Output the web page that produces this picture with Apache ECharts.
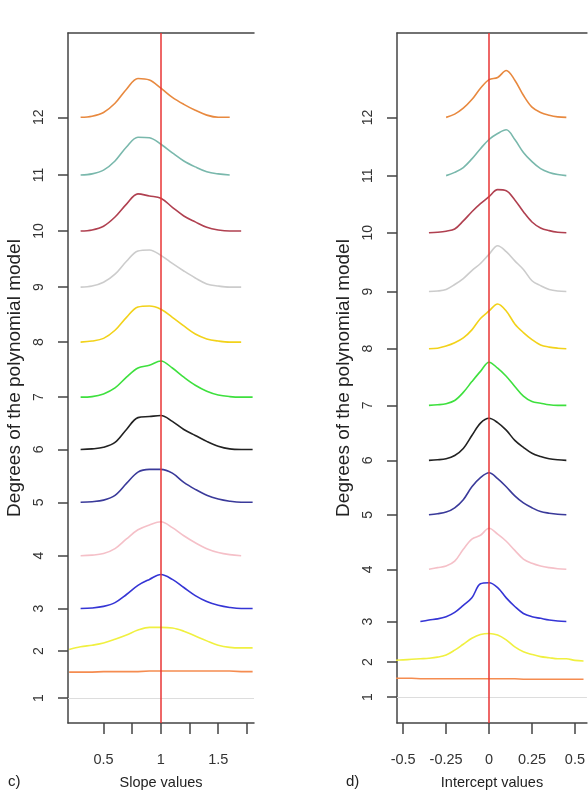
<!DOCTYPE html>
<html>
<head>
<meta charset="utf-8">
<script src="https://cdn.jsdelivr.net/npm/echarts@6/dist/echarts.min.js"></script>
<style>
  html, body { margin: 0; padding: 0; background: #fff; }
  #chart { width: 588px; height: 795px; }
</style>
</head>
<body>
<div id="chart"></div>
<script>
// ---- data ----
const degreeLabels = ['1', '2', '3', '4', '5', '6', '7', '8', '9', '10', '11', '12']
const lineColors = ['#F58C50', '#F0F040', '#3535D5', '#F5C0C8', '#3A3A9A', '#222222',
  '#3EE03E', '#F2D21A', '#CCCCCC', '#B04050', '#79B8AC', '#E8893F']

// where each degree sits on the y axis (panel c and panel d are spaced differently)
const slopeLevels = [1, 1.87, 2.66, 3.64, 4.63, 5.61, 6.58, 7.6, 8.62, 9.66, 10.7, 11.77]
const interceptLevels = [1, 1.65, 2.4, 3.37, 4.38, 5.39, 6.41, 7.46, 8.52, 9.61, 10.67, 11.75]

// x ticks
const slopeTicks = [0.5, 0.75, 1, 1.25, 1.5, 1.75]
const slopeTickLabels = [0.5, 1, 1.5]
const interceptTicks = [-0.5, -0.25, 0, 0.25, 0.5]

// panel c: density heights above each baseline, degree 1..12
const slopeX = [0.2, 0.3, 0.4, 0.5, 0.6, 0.7, 0.8, 0.9, 1.0, 1.1, 1.2, 1.3, 1.4, 1.5, 1.6, 1.7, 1.8]
const slopeDensity = [
  [0.48, 0.48, 0.48, 0.49, 0.49, 0.49, 0.49, 0.5, 0.5, 0.5, 0.5, 0.5, 0.5, 0.5, 0.5, 0.49, 0.49],
  [0.03, 0.08, 0.11, 0.15, 0.22, 0.3, 0.39, 0.44, 0.44, 0.43, 0.37, 0.28, 0.19, 0.11, 0.07, 0.06, 0.06],
  [null, 0, 0.01, 0.04, 0.11, 0.26, 0.43, 0.54, 0.63, 0.54, 0.39, 0.24, 0.13, 0.06, 0.02, 0, 0],
  [null, 0, 0.01, 0.04, 0.13, 0.31, 0.48, 0.57, 0.63, 0.52, 0.37, 0.24, 0.13, 0.06, 0.02, 0, null],
  [null, 0, 0.01, 0.04, 0.13, 0.35, 0.56, 0.61, 0.61, 0.54, 0.37, 0.24, 0.13, 0.06, 0.02, 0, 0],
  [null, 0, 0.01, 0.04, 0.13, 0.37, 0.59, 0.61, 0.63, 0.52, 0.37, 0.26, 0.15, 0.06, 0.01, 0, 0],
  [null, 0, 0.01, 0.06, 0.17, 0.37, 0.54, 0.59, 0.67, 0.54, 0.37, 0.22, 0.11, 0.04, 0.01, 0, 0],
  [null, 0, 0.02, 0.07, 0.22, 0.46, 0.65, 0.67, 0.61, 0.46, 0.3, 0.15, 0.06, 0.02, 0, 0, null],
  [null, 0, 0.02, 0.09, 0.24, 0.48, 0.67, 0.69, 0.59, 0.44, 0.3, 0.17, 0.06, 0.02, 0, 0, null],
  [null, 0, 0.02, 0.09, 0.26, 0.5, 0.69, 0.65, 0.61, 0.44, 0.28, 0.17, 0.07, 0.02, 0, 0, null],
  [null, 0, 0.02, 0.09, 0.26, 0.52, 0.7, 0.69, 0.57, 0.41, 0.26, 0.15, 0.06, 0.02, 0, null, null],
  [null, 0, 0.02, 0.09, 0.26, 0.52, 0.72, 0.69, 0.54, 0.37, 0.24, 0.13, 0.04, 0, 0, null, null]
]

// panel d
const interceptX = [-0.55, -0.5, -0.45, -0.4, -0.35, -0.3, -0.25, -0.2, -0.15, -0.1, -0.05, 0,
  0.05, 0.1, 0.15, 0.2, 0.25, 0.3, 0.35, 0.4, 0.45, 0.5, 0.55]
const interceptDensity = [
  [0.35, 0.35, 0.35, 0.34, 0.34, 0.34, 0.34, 0.34, 0.34, 0.34, 0.34, 0.34, 0.34, 0.34, 0.34, 0.33, 0.33, 0.33, 0.33, 0.33, 0.33, 0.33, 0.33],
  [0.03, 0.04, 0.05, 0.06, 0.07, 0.09, 0.13, 0.22, 0.33, 0.44, 0.51, 0.53, 0.5, 0.41, 0.28, 0.19, 0.14, 0.1, 0.08, 0.06, 0.06, 0.03, 0.02],
  [null, null, null, 0, 0.03, 0.05, 0.09, 0.17, 0.3, 0.44, 0.7, 0.72, 0.63, 0.44, 0.28, 0.15, 0.09, 0.06, 0.03, 0.01, 0, null, null],
  [null, null, null, null, 0, 0.03, 0.06, 0.15, 0.37, 0.56, 0.63, 0.76, 0.65, 0.52, 0.35, 0.19, 0.11, 0.06, 0.03, 0.01, 0, null, null],
  [null, null, null, null, 0, 0.02, 0.05, 0.13, 0.28, 0.52, 0.69, 0.78, 0.67, 0.52, 0.35, 0.22, 0.13, 0.06, 0.03, 0.01, 0, null, null],
  [null, null, null, null, 0, 0.01, 0.03, 0.09, 0.22, 0.46, 0.69, 0.78, 0.7, 0.56, 0.37, 0.24, 0.13, 0.07, 0.03, 0.01, 0, null, null],
  [null, null, null, null, 0, 0.01, 0.03, 0.09, 0.24, 0.44, 0.63, 0.8, 0.69, 0.54, 0.35, 0.17, 0.07, 0.04, 0.01, 0, 0, null, null],
  [null, null, null, null, 0, 0.01, 0.05, 0.11, 0.2, 0.35, 0.56, 0.7, 0.83, 0.7, 0.46, 0.3, 0.17, 0.07, 0.03, 0.01, 0, null, null],
  [null, null, null, null, 0, 0.01, 0.04, 0.13, 0.24, 0.39, 0.52, 0.69, 0.85, 0.74, 0.57, 0.41, 0.2, 0.11, 0.04, 0.01, 0, null, null],
  [null, null, null, null, 0, 0.01, 0.03, 0.07, 0.22, 0.39, 0.54, 0.67, 0.8, 0.78, 0.61, 0.39, 0.2, 0.09, 0.04, 0.01, 0, null, null],
  [null, null, null, null, null, null, 0, 0.06, 0.15, 0.31, 0.5, 0.67, 0.78, 0.85, 0.67, 0.43, 0.26, 0.13, 0.06, 0.02, 0, null, null],
  [null, null, null, null, null, null, 0, 0.06, 0.17, 0.33, 0.54, 0.7, 0.74, 0.87, 0.69, 0.41, 0.19, 0.09, 0.04, 0.01, 0, null, null]
]

// ---- chart ----
const FONT = 'Liberation Sans, Arial, sans-serif'
const AXIS_COLOR = '#444'

const chart = echarts.init(document.getElementById('chart'), null, { renderer: 'canvas' })

const buildSeries = (xs, levels, densities, idx, refX) => {
  const list = densities.map((h, d) => ({
    type: 'line',
    xAxisIndex: idx * 2,
    yAxisIndex: idx,
    showSymbol: false,
    smooth: d === 0 ? false : 0.35,
    silent: true,
    lineStyle: { color: lineColors[d], width: 1.6 },
    data: xs.map((x, i) => h[i] == null ? null : [x, levels[d] + h[i]]).filter(Boolean)
  }))
  // light baseline at degree 1 and the red reference line
  list[list.length - 1].markLine = {
    silent: true,
    symbol: 'none',
    label: { show: false },
    data: [
      { yAxis: levels[0], lineStyle: { color: '#DDDDDD', width: 1.2, type: 'solid' } },
      { xAxis: refX, lineStyle: { color: '#E83535', width: 1.5, type: 'solid' } }
    ]
  }
  return list
}

const yAxisFor = (idx, levels, min, max) => ({
  type: 'value',
  gridIndex: idx,
  position: 'left',
  min, max,
  name: 'Degrees of the polynomial model',
  nameLocation: 'middle',
  nameGap: 44,
  nameTextStyle: { fontFamily: FONT, fontSize: 19, color: '#222' },
  splitLine: { show: false },
  axisLine: { show: true, onZero: false, lineStyle: { color: AXIS_COLOR, width: 1.5 } },
  axisTick: { show: true, length: 10, customValues: levels, lineStyle: { color: AXIS_COLOR, width: 1.5 } },
  axisLabel: {
    customValues: levels,
    rotate: 90,
    margin: 22,
    fontFamily: FONT,
    fontSize: 14,
    color: '#333',
    formatter: val => {
      const i = levels.findIndex(l => Math.abs(l - val) < 1e-6)
      return i < 0 ? '' : degreeLabels[i]
    }
  }
})

const xAxesFor = (idx, min, max, ticks, labels, name) => [
  {
    type: 'value',
    gridIndex: idx,
    position: 'bottom',
    min, max,
    name,
    nameLocation: 'middle',
    nameGap: 52,
    nameTextStyle: { fontFamily: FONT, fontSize: 14.5, color: '#222' },
    splitLine: { show: false },
    axisLine: { show: true, onZero: false, lineStyle: { color: AXIS_COLOR, width: 1.5 } },
    axisTick: { show: true, length: 11, customValues: ticks, lineStyle: { color: AXIS_COLOR, width: 1.5 } },
    axisLabel: { customValues: labels, margin: 29, fontFamily: FONT, fontSize: 14.5, color: '#333' }
  },
  {
    type: 'value',
    gridIndex: idx,
    position: 'top',
    min, max,
    splitLine: { show: false },
    axisLine: { show: true, onZero: false, lineStyle: { color: AXIS_COLOR, width: 1.5 } },
    axisTick: { show: false },
    axisLabel: { show: false }
  }
]

chart.setOption({
  animation: false,
  backgroundColor: '#fff',
  grid: [
    { left: 68, top: 33, width: 186, height: 691 },
    { left: 397, top: 33, width: 191, height: 691 }
  ],
  xAxis: [
    ...xAxesFor(0, 0.19, 1.812, slopeTicks, slopeTickLabels, 'Slope values'),
    ...xAxesFor(1, -0.536, 0.57, interceptTicks, interceptTicks, 'Intercept values')
  ],
  yAxis: [
    yAxisFor(0, slopeLevels, 0.537, 13.333),
    yAxisFor(1, interceptLevels, 0.519, 13.315)
  ],
  graphic: [
    { type: 'text', left: 8, top: 774, style: { text: 'c)', font: '15px ' + FONT, fill: '#222' } },
    { type: 'text', left: 346, top: 774, style: { text: 'd)', font: '15px ' + FONT, fill: '#222' } }
  ],
  series: [
    ...buildSeries(slopeX, slopeLevels, slopeDensity, 0, 1),
    ...buildSeries(interceptX, interceptLevels, interceptDensity, 1, 0)
  ]
})
</script>
</body>
</html>
